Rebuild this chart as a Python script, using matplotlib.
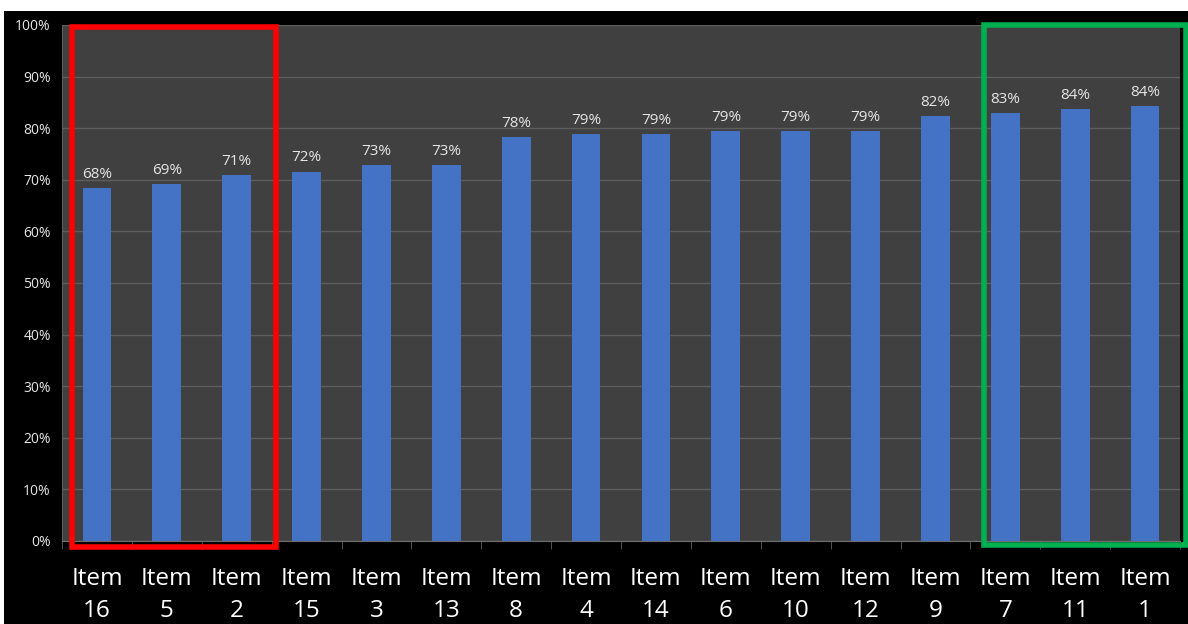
import matplotlib.pyplot as plt
from matplotlib.patches import Rectangle
import numpy as np

# values
items = ['Item\n16', 'Item\n5', 'Item\n2', 'Item\n15', 'Item\n3', 'Item\n13', 'Item\n8',
         'Item\n4', 'Item\n14', 'Item\n6', 'Item\n10', 'Item\n12', 'Item\n9', 'Item\n7',
         'Item\n11', 'Item\n1']
scores = [68.4, 69.2, 70.9, 71.6, 72.8, 72.8, 78.2, 78.8, 78.8, 79.4, 79.4, 79.4,
          82.4, 83.0, 83.7, 84.3]
yticks = [0, 10, 20, 30, 40, 50, 60, 70, 80, 90, 100]

plt.rcParams['font.family'] = ['Open Sans', 'DejaVu Sans']

fig = plt.figure(figsize=(11.88, 6.24), dpi=100, facecolor='white')
# black backdrop (white margin left/top like the screenshot)
fig.patches.append(Rectangle((4/1188, 0), 1 - 4/1188, 1 - 11/624, transform=fig.transFigure,
                             facecolor='black', edgecolor='none', zorder=-10))

ax = fig.add_axes([62/1188, 1 - 541/624, 1118/1188, 516/624])
ax.set_facecolor('#404040')

x = np.arange(len(items))
ax.bar(x, scores, width=0.41, color='#4472C4', zorder=3)
for xi, v in zip(x, scores):
    ax.text(xi, v + 1.2, f'{round(v):d}%', ha='center', va='bottom', color='#e6e6e6',
            fontsize=11, zorder=4)

ax.set_xlim(-0.5, len(items) - 0.5)
ax.set_ylim(0, 100)
ax.set_yticks(yticks)
ax.set_yticklabels([f'{t}%' for t in yticks])
ax.grid(axis='y', color='#5e5e5e', lw=1, zorder=1)

ax.set_xticks(x)
ax.set_xticklabels(items, fontsize=17.5, color='white', linespacing=1.42)
ax.set_xticks(np.arange(-0.5, len(items)), minor=True)
ax.tick_params(axis='x', which='major', length=0, pad=19)
ax.tick_params(axis='x', which='minor', length=6, color='#5e5e5e')
ax.tick_params(axis='y', length=0, labelsize=10, labelcolor='#e6e6e6', pad=8)
for side in ['top', 'right']:
    ax.spines[side].set_visible(False)
ax.spines['left'].set_color('#5e5e5e')
ax.spines['bottom'].set_color('#6e6e6e')

# highlight boxes
ax.add_patch(Rectangle((-0.36, -1.1), 2.92, 100.7, fill=False, edgecolor='#ff0000',
                       lw=4, zorder=5, clip_on=False))
ax.add_patch(Rectangle((12.7, -0.8), 2.88, 100.8, fill=False, edgecolor='#00b050',
                       lw=4, zorder=5, clip_on=False))

plt.savefig('out.png', dpi=100, facecolor=fig.get_facecolor())
